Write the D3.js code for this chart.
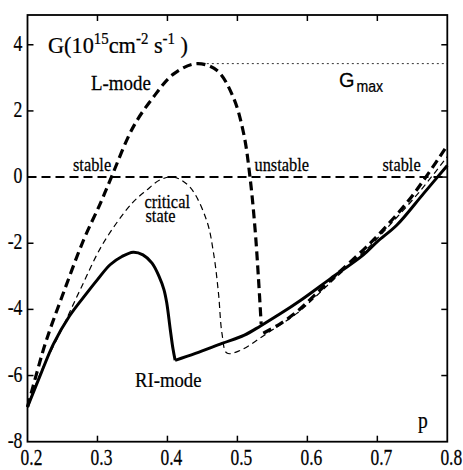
<!DOCTYPE html>
<html><head><meta charset="utf-8">
<script src="https://cdn.jsdelivr.net/npm/d3@7"></script>
<style>html,body{margin:0;padding:0;background:#fff;}svg{display:block;}
.sf{font-family:'Liberation Serif','Times New Roman',serif;}
.ss{font-family:'Liberation Sans',Arial,sans-serif;}
</style>
</head><body>
<svg id="c" width="463" height="470"></svg>
<script>
// ---- data ----
const pTicks = [0.2, 0.3, 0.4, 0.5, 0.6, 0.7, 0.8];
const gTicks = [-8, -6, -4, -2, 0, 2, 4];
const gMax = 3.43;
const gMaxStart = 0.442;

// RI-mode (solid): rising branch up to the sharp minimum, then the right branch
const riLeftP = [0.2, 0.22, 0.237, 0.26, 0.285, 0.3, 0.318, 0.335, 0.351, 0.365, 0.378, 0.388, 0.395, 0.399, 0.404, 0.408, 0.411];
const riLeftG = [-6.95, -5.9, -5.05, -4.2, -3.5, -3.1, -2.65, -2.4, -2.27, -2.35, -2.6, -3.0, -3.4, -3.8, -4.6, -5.2, -5.54];
const riRightP = [0.411, 0.44, 0.478, 0.51, 0.533, 0.56, 0.59, 0.633, 0.68, 0.70, 0.728, 0.766, 0.8];
const riRightG = [-5.54, -5.33, -5.03, -4.78, -4.5, -4.15, -3.73, -3.07, -2.35, -1.95, -1.45, -0.5, 0.35];

// L-mode (thick dashed): upper fold, then lower branch
const lUpperP = [0.2, 0.213, 0.227, 0.251, 0.28, 0.304, 0.318, 0.351, 0.38, 0.409, 0.442, 0.471, 0.494, 0.509, 0.518, 0.525, 0.53, 0.534];
const lUpperG = [-6.95, -5.94, -4.93, -3.52, -1.91, -0.8, -0.1, 1.51, 2.42, 3.12, 3.43, 3.22, 2.42, 1.31, 0.0, -1.51, -3.02, -4.45];
const lLowerP = [0.537, 0.56, 0.585, 0.609, 0.64, 0.68, 0.70, 0.742, 0.771, 0.8];
const lLowerG = [-4.72, -4.45, -4.07, -3.6, -2.98, -2.2, -1.78, -0.78, 0.05, 0.96];

// critical state (thin dashed)
const critP = [0.2, 0.22, 0.246, 0.275, 0.308, 0.349, 0.37, 0.39, 0.409, 0.432, 0.456, 0.466, 0.473, 0.478, 0.485, 0.504, 0.542, 0.585, 0.61, 0.64, 0.68, 0.72, 0.76, 0.8];
const critG = [-6.95, -5.85, -4.73, -3.42, -2.01, -0.8, -0.4, -0.08, 0.0, -0.3, -1.31, -2.31, -3.52, -4.73, -5.32, -5.24, -4.73, -4.12, -3.65, -3.05, -2.28, -1.4, -0.45, 0.62];

const zeroLine = [0.2, 0.8];

// ---- layout ----
const svg = d3.select('#c');
const x = d3.scaleLinear().domain([0.2, 0.8]).range([27.5, 447.3]);
const y = d3.scaleLinear().domain([-8, 4.9]).range([441.7, 15]);

const zip = (P, G) => P.map((p, i) => [p, G[i]]);
const line = d3.line().x(d => x(d[0])).y(d => y(d[1])).curve(d3.curveCatmullRom.alpha(0.5));
const lin = d3.line().x(d => x(d[0])).y(d => y(d[1]));

// Gmax dotted line
svg.append('path').attr('d', lin([[gMaxStart, gMax], [0.8, gMax]]))
  .attr('fill', 'none').attr('stroke', '#333').attr('stroke-width', 1).attr('stroke-dasharray', '2,3');

// zero line
svg.append('path').attr('d', lin(zeroLine.map(p => [p, 0])))
  .attr('fill', 'none').attr('stroke', '#000').attr('stroke-width', 2).attr('stroke-dasharray', '9,5');

// critical state
svg.append('path').attr('d', line(zip(critP, critG)))
  .attr('fill', 'none').attr('stroke', '#000').attr('stroke-width', 1.2).attr('stroke-dasharray', '6,4');

// RI-mode solid
svg.append('path').attr('d', line(zip(riLeftP, riLeftG)))
  .attr('fill', 'none').attr('stroke', '#000').attr('stroke-width', 3);
svg.append('path').attr('d', line(zip(riRightP, riRightG)))
  .attr('fill', 'none').attr('stroke', '#000').attr('stroke-width', 3);

// L-mode thick dashed
svg.append('path').attr('d', line(zip(lUpperP, lUpperG)))
  .attr('fill', 'none').attr('stroke', '#000').attr('stroke-width', 3.2).attr('stroke-dasharray', '9,5');
svg.append('path').attr('d', line(zip(lLowerP, lLowerG)))
  .attr('fill', 'none').attr('stroke', '#000').attr('stroke-width', 3.2).attr('stroke-dasharray', '9,5');

// frame
const fr = svg.append('g').attr('stroke', '#000').attr('fill', 'none');
fr.append('rect').attr('x', x(0.2)).attr('y', y(4.9)).attr('width', x(0.8) - x(0.2)).attr('height', y(-8) - y(4.9))
  .attr('stroke-width', 1.8);
const tl = 6;
pTicks.slice(1, -1).forEach(p => {
  fr.append('line').attr('x1', x(p)).attr('x2', x(p)).attr('y1', y(-8)).attr('y2', y(-8) - tl).attr('stroke-width', 1.5);
  fr.append('line').attr('x1', x(p)).attr('x2', x(p)).attr('y1', y(4.9)).attr('y2', y(4.9) + tl).attr('stroke-width', 1.5);
});
gTicks.slice(1).forEach(g => {
  fr.append('line').attr('x1', x(0.2)).attr('x2', x(0.2) + tl).attr('y1', y(g)).attr('y2', y(g)).attr('stroke-width', 1.5);
  fr.append('line').attr('x1', x(0.8)).attr('x2', x(0.8) - tl).attr('y1', y(g)).attr('y2', y(g)).attr('stroke-width', 1.5);
});

// text helper
function txt(px, py, s, size, sx, anchor, cls) {
  return svg.append('text').attr('class', cls || 'sf')
    .attr('transform', `translate(${px},${py}) scale(${sx},1)`)
    .attr('text-anchor', anchor || 'start')
    .style('font-size', size + 'px').attr('fill', '#000')
    .attr('stroke', '#000').attr('stroke-width', 0.25).text(s);
}
gTicks.forEach(g => txt(22.5, y(g) + 6, String(g), 24, 0.74, 'end'));
pTicks.forEach(p => txt(x(p) + 4, 465, String(p), 23, 0.76, 'middle'));

// annotations
txt(91, 90, 'L-mode', 22, 0.86);
txt(73, 170.5, 'stable', 19.5, 0.84);
txt(144.5, 207.5, 'critical', 19.5, 0.84);
txt(145.5, 222, 'state', 19.5, 0.84);
txt(254.5, 171, 'unstable', 19.5, 0.84);
txt(382.5, 171, 'stable', 19.5, 0.84);
txt(135, 387, 'RI-mode', 22, 0.85);
txt(418, 428, 'p', 23, 0.85);

// Gmax
txt(339, 86.7, 'G', 21, 0.95, 'start', 'ss');
txt(356.5, 92.3, 'max', 17, 0.83, 'start', 'ss');

// G axis label
const gl = svg.append('text').attr('class', 'sf').attr('transform', 'translate(48,53.3) scale(0.93,1)')
  .style('font-size', '24px').attr('fill', '#000').attr('stroke', '#000').attr('stroke-width', 0.25);
gl.append('tspan').text('G(10');
gl.append('tspan').style('font-size', '16px').attr('dy', -9).text('15');
gl.append('tspan').attr('dy', 9).text('cm');
gl.append('tspan').style('font-size', '16px').attr('dy', -9).text('-2');
gl.append('tspan').attr('dy', 9).text(' s');
gl.append('tspan').style('font-size', '16px').attr('dy', -9).text('-1');
gl.append('tspan').attr('dy', 9).text(' )');
</script>
</body></html>
